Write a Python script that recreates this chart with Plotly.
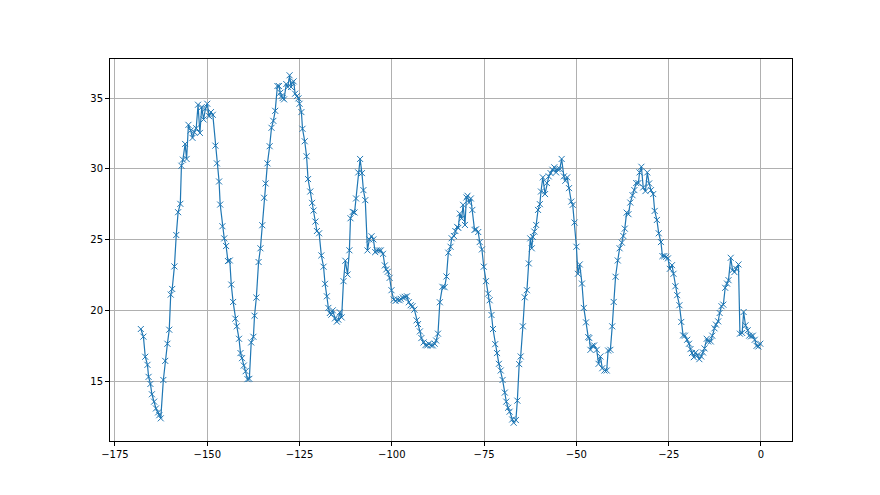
import plotly.graph_objects as go

x_vals = [
    -168.0, -167.3, -166.8, -166.2, -165.9, -165.4, -165.0, -164.4, -163.9, -163.3,
    -163.0, -162.6, -161.9, -161.4, -160.8, -160.3, -159.9, -159.5, -158.9, -158.4,
    -157.9, -157.3, -157.0, -156.6, -156.0, -155.6, -155.1, -154.5, -154.0, -153.5,
    -153.0, -152.5, -152.0, -151.5, -151.0, -150.5, -150.0, -149.5, -149.0, -148.5,
    -147.8, -147.4, -146.8, -146.5, -145.9, -145.4, -144.9, -144.4, -143.9, -143.5,
    -143.0, -142.4, -142.0, -141.4, -141.0, -140.6, -140.1, -139.6, -139.1, -138.6,
    -138.1, -137.5, -137.2, -136.7, -136.1, -135.6, -135.1, -134.6, -134.2, -133.7,
    -133.1, -132.6, -132.1, -131.6, -131.0, -130.6, -130.2, -129.9, -129.6, -129.2,
    -128.6, -128.2, -127.7, -127.3, -127.0, -126.6, -126.2, -125.7, -125.3, -125.0,
    -124.5, -124.2, -123.6, -123.1, -122.7, -122.1, -121.6, -121.2, -120.7, -120.3,
    -119.7, -119.1, -118.5, -118.1, -117.6, -117.2, -116.8, -116.4, -116.0, -115.4,
    -114.9, -114.5, -114.1, -113.6, -113.1, -112.6, -112.0, -111.5, -111.2, -110.6,
    -110.1, -109.7, -109.1, -108.6, -108.1, -107.7, -107.2, -106.6, -106.1, -105.5,
    -105.0, -104.5, -104.1, -103.5, -103.0, -102.4, -101.9, -101.5, -101.1, -100.6,
    -100.1, -99.5, -99.0, -98.5, -97.9, -97.6, -97.0, -96.5, -95.9, -95.4,
    -94.9, -94.4, -93.9, -93.3, -92.9, -92.4, -92.0, -91.4, -90.9, -90.4,
    -90.0, -89.4, -88.9, -88.4, -88.0, -87.5, -87.0, -86.3, -85.7, -85.2,
    -84.7, -84.1, -83.8, -83.2, -82.8, -82.3, -82.0, -81.6, -81.1, -80.7,
    -80.2, -79.8, -79.5, -79.1, -78.6, -78.2, -77.6, -77.2, -76.6, -76.2,
    -75.6, -75.1, -74.5, -73.9, -73.5, -73.0, -72.6, -72.0, -71.5, -71.0,
    -70.5, -70.0, -69.4, -69.0, -68.5, -68.1, -67.4, -67.0, -66.4, -66.0,
    -65.5, -65.1, -64.5, -64.0, -63.4, -62.9, -62.5, -62.1, -61.8, -61.4,
    -60.9, -60.4, -59.9, -59.6, -59.1, -58.5, -58.0, -57.5, -57.0, -56.5,
    -56.0, -55.5, -55.1, -54.5, -54.0, -53.4, -53.0, -52.5, -52.0, -51.4,
    -51.0, -50.5, -50.0, -49.6, -49.1, -48.5, -48.0, -47.4, -46.8, -46.5,
    -46.2, -45.7, -45.2, -44.5, -44.0, -43.5, -43.0, -42.4, -41.8, -41.4,
    -40.8, -40.3, -39.9, -39.4, -38.8, -38.3, -37.7, -37.3, -36.9, -36.4,
    -35.9, -35.4, -34.8, -34.3, -33.8, -33.2, -32.9, -32.4, -31.9, -31.3,
    -30.8, -30.3, -29.8, -29.2, -28.8, -28.2, -27.7, -27.1, -26.7, -26.2,
    -25.7, -25.2, -24.7, -24.1, -23.7, -23.2, -22.7, -22.1, -21.6, -21.1,
    -20.6, -20.0, -19.5, -19.1, -18.7, -18.2, -17.7, -17.2, -16.7, -16.2,
    -15.7, -15.3, -14.7, -14.3, -13.6, -13.2, -12.6, -12.2, -11.6, -11.2,
    -10.7, -10.2, -9.7, -9.2, -8.8, -8.2, -7.7, -7.2, -6.7, -6.1,
    -5.7, -5.1, -4.7, -4.2, -3.6, -3.2, -2.7, -2.2, -1.7, -1.2,
    -0.7, -0.2,
]

y_vals = [
    18.69, 18.15, 16.73, 16.16, 15.31, 14.81, 14.08, 13.56, 13.08, 12.80,
    12.60, 12.38, 15.09, 16.44, 17.65, 18.64, 21.12, 21.52, 23.11, 25.33,
    26.94, 27.53, 30.22, 30.65, 31.76, 30.70, 33.11, 32.71, 32.19, 32.59,
    32.87, 34.53, 32.54, 34.36, 33.49, 34.24, 34.60, 33.72, 34.01, 33.82,
    31.64, 30.39, 29.11, 27.48, 25.95, 25.09, 24.55, 23.49, 23.53, 21.83,
    20.60, 19.42, 18.88, 18.00, 16.99, 16.63, 16.11, 15.71, 15.15, 15.17,
    17.74, 18.14, 19.63, 20.91, 23.42, 24.39, 26.02, 27.96, 28.97, 30.39,
    31.60, 32.90, 33.39, 34.10, 35.85, 35.85, 35.38, 35.14, 35.00, 34.91,
    35.99, 35.78, 36.61, 35.78, 36.09, 36.18, 35.31, 35.14, 34.98, 34.60,
    34.01, 32.83, 31.95, 30.89, 29.28, 28.40, 27.60, 27.06, 26.28, 25.61,
    25.45, 23.89, 23.09, 21.88, 21.00, 20.18, 19.82, 19.70, 20.01, 19.44,
    19.21, 19.35, 19.87, 19.51, 22.07, 23.51, 22.54, 24.25, 26.51, 26.96,
    26.92, 27.91, 29.75, 30.70, 29.70, 28.50, 27.79, 24.24, 25.02, 25.24,
    25.02, 24.12, 24.24, 24.24, 24.24, 24.00, 23.18, 22.90, 22.73, 22.30,
    21.43, 20.77, 20.67, 20.77, 20.72, 20.82, 20.91, 20.96, 21.00, 20.58,
    20.37, 20.30, 20.06, 19.30, 19.04, 18.52, 18.05, 17.74, 17.55, 17.53,
    17.65, 17.53, 17.53, 17.65, 17.88, 18.36, 20.58, 21.67, 21.64, 22.40,
    24.08, 24.50, 25.10, 25.26, 25.61, 25.90, 25.83, 26.84, 26.49, 27.46,
    26.04, 27.98, 28.10, 27.62, 27.91, 27.10, 25.69, 25.73, 25.54, 24.83,
    24.31, 23.09, 22.07, 21.19, 20.72, 19.68, 18.69, 17.62, 16.99, 16.23,
    15.76, 15.09, 14.20, 13.56, 13.13, 12.85, 12.30, 12.07, 12.26, 13.63,
    16.21, 16.75, 18.88, 20.93, 21.43, 23.32, 25.09, 24.39, 25.19, 25.57,
    26.04, 27.10, 27.51, 28.40, 29.40, 28.22, 29.00, 29.47, 29.70, 29.94,
    30.11, 29.75, 29.99, 29.99, 30.70, 29.47, 29.16, 29.40, 28.64, 27.69,
    27.46, 26.21, 24.50, 22.59, 23.25, 21.90, 20.18, 19.16, 18.12, 18.05,
    17.22, 17.50, 17.53, 17.22, 16.23, 16.75, 15.92, 15.76, 15.76, 17.17,
    17.22, 18.88, 20.60, 22.38, 23.53, 24.39, 24.79, 25.26, 25.78, 26.91,
    26.80, 27.62, 28.14, 28.50, 29.00, 29.00, 29.75, 30.15, 28.69, 28.43,
    29.75, 28.97, 28.50, 28.22, 27.03, 26.39, 25.45, 24.83, 23.84, 23.84,
    23.79, 23.68, 22.94, 23.20, 22.59, 21.71, 21.08, 20.37, 19.19, 18.24,
    18.22, 17.93, 17.65, 17.27, 16.99, 16.70, 17.03, 16.84, 16.56, 16.75,
    17.03, 17.32, 18.00, 17.81, 17.81, 18.22, 18.74, 19.00, 19.23, 19.82,
    20.30, 20.41, 21.60, 21.90, 22.14, 23.72, 22.85, 22.71, 22.94, 23.25,
    18.36, 18.41, 19.89, 18.95, 18.60, 18.22, 18.17, 18.22, 17.93, 17.50,
    17.46, 17.65,
]

x_ticks = [-175, -150, -125, -100, -75, -50, -25, 0]
y_ticks = [15, 20, 25, 30, 35]

fig = go.Figure()
fig.add_trace(go.Scatter(
    x=x_vals, y=y_vals, mode="lines+markers",
    line=dict(color="#1f77b4", width=1.2),
    marker=dict(symbol="x-thin", size=6, line=dict(color="#1f77b4", width=1)),
    showlegend=False,
))

axis_common = dict(
    showline=True, linecolor="black", linewidth=1, mirror=True,
    ticks="outside", ticklen=4, tickwidth=1, tickcolor="black",
    showgrid=True, gridcolor="#b0b0b0", gridwidth=0.8,
    zeroline=False, tickfont=dict(family="DejaVu Sans", size=10, color="black"),
)

fig.update_layout(
    width=872, height=487,
    margin=dict(l=102, r=88, t=51, b=54),
    paper_bgcolor="white", plot_bgcolor="white",
    xaxis=dict(range=[-176.35, 8.4], tickvals=x_ticks, **axis_common),
    yaxis=dict(range=[10.78, 37.76], tickvals=y_ticks, **axis_common),
)

fig.write_html("out.html")
